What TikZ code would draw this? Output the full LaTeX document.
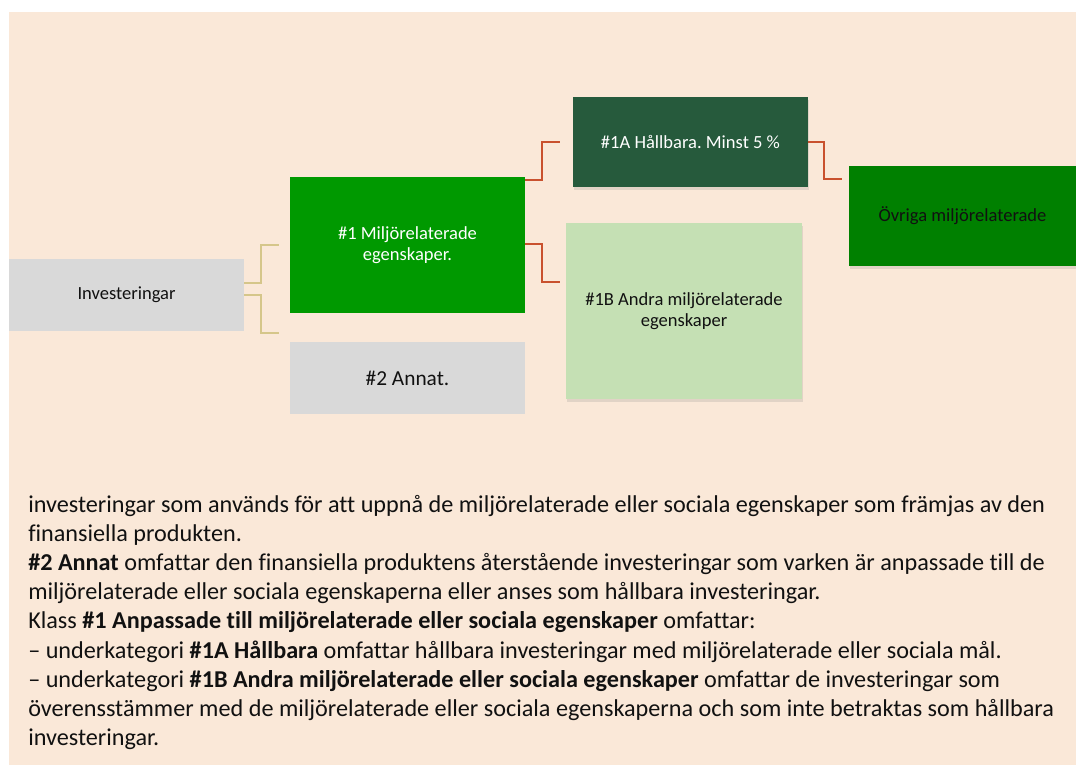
\documentclass[tikz,border=0pt]{standalone}
\usepackage{fontspec}
\setmainfont{Carlito}[Ligatures=NoCommon]
\usetikzlibrary{shadows}
\definecolor{bgc}{HTML}{FAE8D8}
\definecolor{grayc}{HTML}{D9D9D9}
\definecolor{gone}{HTML}{009900}
\definecolor{gonea}{HTML}{265A3C}
\definecolor{goneb}{HTML}{C5E0B4}
\definecolor{gov}{HTML}{008000}
\definecolor{tanc}{HTML}{D5C68A}
\definecolor{redc}{HTML}{C9512E}
\definecolor{txt}{HTML}{111111}
\frenchspacing
\begin{document}
\begin{tikzpicture}[x=0.75pt,y=-0.75pt,
  box/.style={rectangle, inner sep=0pt, align=center, text=txt, font=\fontsize{13.9}{16}\selectfont},
  shad/.style={drop shadow={shadow xshift=0.8pt, shadow yshift=-2.6pt, opacity=0.2}},
  tanline/.style={draw=tanc, line width=1.3pt},
  redline/.style={draw=redc, line width=1.4pt}]
\useasboundingbox (0,0) rectangle (1076,765);
\fill[white] (0,0) rectangle (1076,765);
\fill[bgc] (9,12) rectangle (1076,765);

\node[box, fill=grayc, minimum width=176.25pt, minimum height=54pt] (inv) at (126.5,295) {Investeringar};
\node[box, fill=gone, text=white, minimum width=176.25pt, minimum height=102pt] (one) at (407.5,245) {\#1 Miljörelaterade\\egenskaper.};
\node[box, fill=grayc, minimum width=176.25pt, minimum height=54pt, font=\fontsize{16}{19}\selectfont] (two) at (407.5,378) {\#2 Annat.};
\node[box, shad, fill=gonea, text=white, minimum width=176.25pt, minimum height=67.5pt] (a1) at (690.5,142) {\#1A Hållbara. Minst 5 \%};
\node[box, shad, fill=goneb, minimum width=177pt, minimum height=132pt] (b1) at (684,311) {\#1B Andra miljörelaterade\\egenskaper};
\node[box, shad, fill=gov, minimum width=170.25pt, minimum height=75pt] (ov) at (962.5,216) {Övriga miljörelaterade};

\coordinate (t1) at (279,245);
\coordinate (t2) at (279,333);
\draw[tanline] (inv.east |- 0,283) -- ++(17,0) |- (t1);
\draw[tanline] (inv.east |- 0,295) -- ++(17,0) |- (t2);

\coordinate (r1) at (560,142);
\coordinate (r2) at (560,282);
\coordinate (r3) at (842,179);
\draw[redline] (one.east |- 0,180) -- ++(17,0) |- (r1);
\draw[redline] (one.east |- 0,244) -- ++(17,0) |- (r2);
\draw[redline] (a1.east |- 0,142) -- ++(16,0) |- (r3);

\node[anchor=base west, inner sep=0pt, text=txt] (para) at (28,512) {\parbox[t]{800pt}{\raggedright\fontsize{18.15}{21.9}\selectfont
investeringar som används för att uppnå de miljörelaterade eller sociala egenskaper som främjas av den\\
finansiella produkten.\\
\textbf{\#2 Annat} omfattar den finansiella produktens återstående investeringar som varken är anpassade till de\\
miljörelaterade eller sociala egenskaperna eller anses som hållbara investeringar.\\
Klass \textbf{\#1 Anpassade till miljörelaterade eller sociala egenskaper} omfattar:\\
– underkategori \textbf{\#1A Hållbara} omfattar hållbara investeringar med miljörelaterade eller sociala mål.\\
– underkategori \textbf{\#1B Andra miljörelaterade eller sociala egenskaper} omfattar de investeringar som\\
överensstämmer med de miljörelaterade eller sociala egenskaperna och som inte betraktas som hållbara\\
investeringar.}};
\end{tikzpicture}
\end{document}
